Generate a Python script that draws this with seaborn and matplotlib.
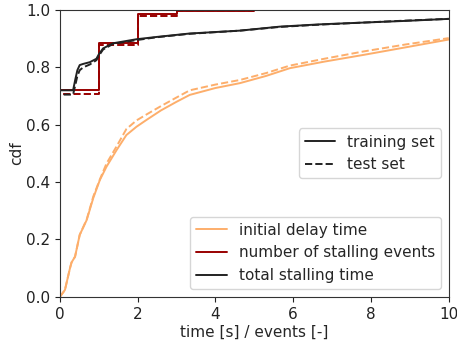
import numpy as np
import pandas as pd
import matplotlib
matplotlib.use("Agg")
import matplotlib.pyplot as plt
from matplotlib.lines import Line2D
import seaborn as sns

# initial delay time (s)
delay_x = [0, 0.13, 0.26, 0.3, 0.39, 0.51, 0.69, 0.86, 1.03, 1.2, 1.46, 1.71, 1.97,
           2.23, 2.6, 3.0, 3.34, 4.0, 4.63, 5.3, 5.91, 6.8, 7.79, 8.9, 10]
delay_train = [0, 0.024, 0.1, 0.12, 0.14, 0.216, 0.268, 0.345, 0.408, 0.454, 0.512, 0.564,
               0.593, 0.617, 0.65, 0.68, 0.704, 0.728, 0.745, 0.77, 0.797, 0.82, 0.843, 0.87, 0.897]
delay_test = [0, 0.024, 0.1, 0.12, 0.14, 0.216, 0.27, 0.35, 0.41, 0.465, 0.525, 0.585,
              0.615, 0.636, 0.665, 0.695, 0.72, 0.74, 0.756, 0.78, 0.806, 0.83, 0.855, 0.88, 0.902]

# number of stalling events (step cdf)
events_x = [0, 0, 1, 2, 3, 4, 5]
events_train = [0, 0.721, 0.886, 0.986, 0.998, 0.998, 0.998]
events_test = [0, 0.707, 0.878, 0.979, 0.996, 0.996, 0.996]

# total stalling time (s)
stall_x = [0, 0, 0.34, 0.4, 0.45, 0.51, 0.6, 0.77, 0.94, 1.0, 1.11, 1.37, 1.97, 2.49,
           3.34, 4.63, 5.66, 6.7, 7.79, 8.9, 10]
stall_train = [0, 0.72, 0.72, 0.76, 0.79, 0.808, 0.812, 0.818, 0.83, 0.845, 0.866, 0.884,
               0.898, 0.906, 0.918, 0.928, 0.942, 0.95, 0.956, 0.962, 0.969]
stall_test = [0, 0.705, 0.705, 0.74, 0.77, 0.79, 0.8, 0.81, 0.825, 0.84, 0.862, 0.882,
              0.895, 0.905, 0.917, 0.928, 0.941, 0.949, 0.956, 0.963, 0.969]

c_delay = '#fdae6b'
c_events = '#990000'
c_stall = '#222222'

sns.set_style("ticks", {"axes.edgecolor": "#333333"})
plt.rcParams['font.family'] = ['DejaVu Sans']

fig = plt.figure(figsize=(4.57, 3.44), dpi=100)
ax = fig.add_axes([0.131, 0.137, 0.851, 0.834])

def draw(x, y, color, ls, steps=False):
    kw = dict(drawstyle='steps-post') if steps else {}
    sns.lineplot(x=x, y=y, ax=ax, color=color, linestyle=ls, linewidth=1.4,
                 estimator=None, sort=False, **kw)

draw(delay_x, delay_train, c_delay, '-')
draw(delay_x, delay_test, c_delay, '--')
draw(events_x, events_train, c_events, '-', steps=True)
draw(events_x, events_test, c_events, '--', steps=True)
draw(stall_x, stall_train, c_stall, '-')
draw(stall_x, stall_test, c_stall, '--')

ax.set_xlim(0, 10)
ax.set_ylim(0, 1)
ax.set_xticks([0, 2, 4, 6, 8, 10])
ax.set_yticks([0, 0.2, 0.4, 0.6, 0.8, 1.0])
ax.tick_params(labelsize=11, colors='#222222')
ax.set_xlabel('time [s] / events [-]', fontsize=11, labelpad=2)
ax.set_ylabel('cdf', fontsize=11, labelpad=1.5)

h1 = [Line2D([], [], color=c_delay, lw=1.4),
      Line2D([], [], color=c_events, lw=1.4),
      Line2D([], [], color=c_stall, lw=1.4)]
leg1 = ax.legend(h1, ['initial delay time', 'number of stalling events', 'total stalling time'],
                 loc='lower right', fontsize=11)
ax.add_artist(leg1)
h2 = [Line2D([], [], color=c_stall, lw=1.4, ls='-'),
      Line2D([], [], color=c_stall, lw=1.4, ls='--')]
ax.legend(h2, ['training set', 'test set'], loc='center right', fontsize=11)

fig.savefig('out.png', dpi=100)
